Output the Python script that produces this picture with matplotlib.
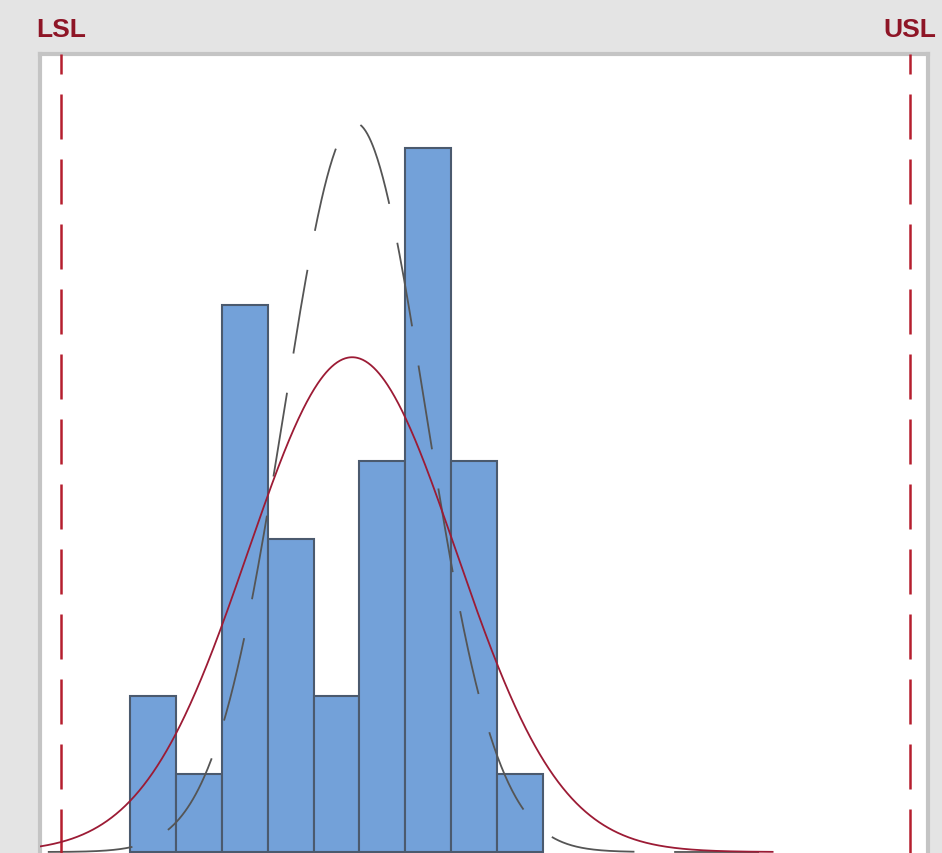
import numpy as np
import matplotlib
matplotlib.use("Agg")
import matplotlib.pyplot as plt

# ---- data ----
bin_edges = [0, 1, 2, 3, 4, 5, 6, 7, 8, 9]
counts = [2, 1, 7, 4, 2, 5, 9, 5, 1]
lsl = -1.5
usl = 17.0
overall_mean, overall_sd = 4.84, 2.27
within_mean, within_sd = 4.90, 1.54
n_total = sum(counts)
spec_labels = ["LSL", "USL"]

W, H = 942, 854
fig = plt.figure(figsize=(W / 100, H / 100), dpi=100)
fig.patch.set_facecolor("#e4e4e4")

left_px, right_px, top_px, bot_px = 40, 928, 55, 857
ax = fig.add_axes([left_px / W, 1 - bot_px / H, (right_px - left_px) / W, (bot_px - top_px) / H])
ax.set_facecolor("white")

px_per_bin = 45.9
x0_px = 130
ax.set_xlim((left_px - x0_px) / px_per_bin, (right_px - x0_px) / px_per_bin)
px_per_count = 78.2
base_px = 853
ax.set_ylim(-(bot_px - base_px) / px_per_count, (base_px - top_px) / px_per_count)

widths = np.diff(bin_edges)
ax.bar(bin_edges[:-1], counts, width=widths, align="edge", color="#73a1d9",
       edgecolor="#4b5a6e", linewidth=1.5, zorder=2)

x = np.linspace(ax.get_xlim()[0], 14, 800)
bw = 1.0
overall = n_total * bw / (overall_sd * np.sqrt(2 * np.pi)) * np.exp(-0.5 * ((x - overall_mean) / overall_sd) ** 2)
within = n_total * bw / (within_sd * np.sqrt(2 * np.pi)) * np.exp(-0.5 * ((x - within_mean) / within_sd) ** 2)

# phase the dash pattern so a dash begins just right of the peak
lw_w = 1.3
dash_u, gap_u = 47, 22
disp = ax.transData.transform(np.column_stack([x, within]))
seg = np.hypot(np.diff(disp[:, 0]), np.diff(disp[:, 1]))
arc = np.concatenate([[0], np.cumsum(seg)]) * 72 / 100  # points
L0 = np.interp(within_mean + 0.12, x, arc)
period = dash_u + gap_u
offset = (-L0 / lw_w) % period
ax.plot(x, within, color="#555555", linewidth=lw_w, linestyle=(offset, (dash_u, gap_u)), zorder=3)
ax.plot(x, overall, color="#9c1b35", linewidth=1.3, zorder=4)

for v in (lsl, usl):
    ax.axvline(v, color="#b51e2e", linewidth=1.8, linestyle=(0, (18, 8)), zorder=3)

for v, lab in zip((lsl, usl), spec_labels):
    ax.annotate(lab, xy=(v, 1), xycoords=("data", "axes fraction"), xytext=(0, 9),
                textcoords="offset points", ha="center", va="bottom",
                fontsize=19, fontweight="bold", color="#8e1526",
                family=["Liberation Sans", "DejaVu Sans"], annotation_clip=False)

ax.set_xticks([])
ax.set_yticks([])
for s in ax.spines.values():
    s.set_color("#c4c4c4")
    s.set_linewidth(3)

fig.savefig("out.png", dpi=100, facecolor=fig.get_facecolor())
